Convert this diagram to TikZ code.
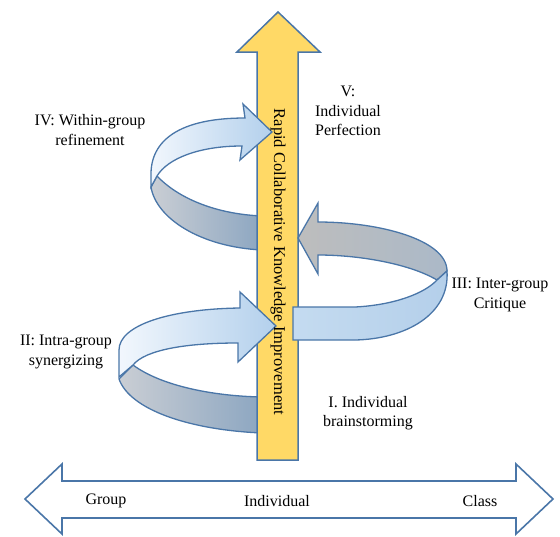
\documentclass[tikz,border=0pt]{standalone}
\usepackage{fontspec}
\setmainfont{Liberation Serif}
\definecolor{edgeblue}{HTML}{4A76A8}
\definecolor{shaftyellow}{HTML}{FFD966}
\definecolor{frontL}{HTML}{F2F7FD}
\definecolor{frontR}{HTML}{B3D0EC}
\definecolor{backL}{HTML}{CACED4}
\definecolor{backR}{HTML}{8CA6C1}
\definecolor{critL}{HTML}{BDBDBD}
\definecolor{critR}{HTML}{ABB9C8}
\definecolor{critFL}{HTML}{C4DBF0}
\definecolor{critFR}{HTML}{B4CFEA}
\begin{document}
\begin{tikzpicture}[x=1pt,y=-1pt,
  outl/.style={draw=edgeblue,line width=1.3pt,line join=miter},
  frontband/.style={outl,left color=frontL,right color=frontR},
  backband/.style={outl,left color=backL,right color=backR},
  lbl/.style={align=center,inner sep=0pt,font=\fontsize{16}{19.5}\selectfont},
  axislbl/.style={inner sep=0pt,font=\fontsize{16}{19}\selectfont}]
\useasboundingbox (0,0) rectangle (560,536);

% bottom double arrow
\draw[outl,line width=1.6pt,fill=white] (25,499) -- (62,464) -- (62,481) -- (516,481) -- (516,464) -- (553,499) -- (516,534) -- (516,518) -- (62,518) -- (62,534) -- cycle;

% back (grey) bands behind the shaft
\shadedraw[backband] (157,176) .. controls (178,198) and (215,214) .. (262,216) -- (262,250) .. controls (200,247) and (156,218) .. (151,187) -- cycle;
\shadedraw[backband] (133,365) .. controls (160,385) and (210,396) .. (262,397) -- (262,433) .. controls (190,430) and (130,410) .. (119,379) -- cycle;

% central yellow arrow
\draw[outl,line width=1.5pt,fill=shaftyellow] (257,460) -- (257,52) -- (237,52) -- (278,12) -- (320,52) -- (298,52) -- (298,460) -- cycle;

% front (light) bands with heads
\shadedraw[frontband] (151,187) -- (151,176) .. controls (150,140) and (180,118) .. (245,118) -- (243,104) -- (272,132) -- (240,160) -- (242,146) .. controls (200,146) and (168,158) .. (157,176) -- cycle;
\shadedraw[frontband] (119,377) -- (119,350) .. controls (119,325) and (170,309) .. (240,308) -- (240,292) -- (276,326) -- (238,362) -- (238,343) .. controls (185,343) and (145,350) .. (133,365) -- cycle;

% III: inter-group critique (right loop)
\shadedraw[outl,left color=critL,right color=critR] (298,238) -- (318,203) -- (318,222) .. controls (380,222) and (447,240) .. (447,271) -- (437,280) .. controls (410,264) and (360,255) .. (318,255) -- (318,274) -- cycle;
\shadedraw[outl,left color=critFL,right color=critFR] (293,307) -- (355,307) .. controls (395,305) and (425,293) .. (437,280) -- (447,271) .. controls (450,315) and (405,339) .. (355,340) -- (293,340) -- cycle;

% texts
\node[inner sep=0pt,rotate=-90,font=\fontsize{16.5}{19}\selectfont] (rcki) at (278,262) {Rapid Collaborative Knowledge Improvement};
\node[lbl] (lIV) at (90,130) {IV: Within-group\\refinement};
\node[lbl] (lV) at (348,111) {V:\\Individual\\Perfection};
\node[lbl] (lIII) at (500,295) {III: Inter-group\\Critique};
\node[lbl] (lII) at (66,352) {II: Intra-group\\synergizing};
\node[lbl] (lI) at (368,413) {I. Individual\\brainstorming};
\node[axislbl] (group) at (106,501) {Group};
\node[axislbl] (indiv) at (277,501) {Individual};
\node[axislbl] (class) at (480,501) {Class};
\end{tikzpicture}
\end{document}
